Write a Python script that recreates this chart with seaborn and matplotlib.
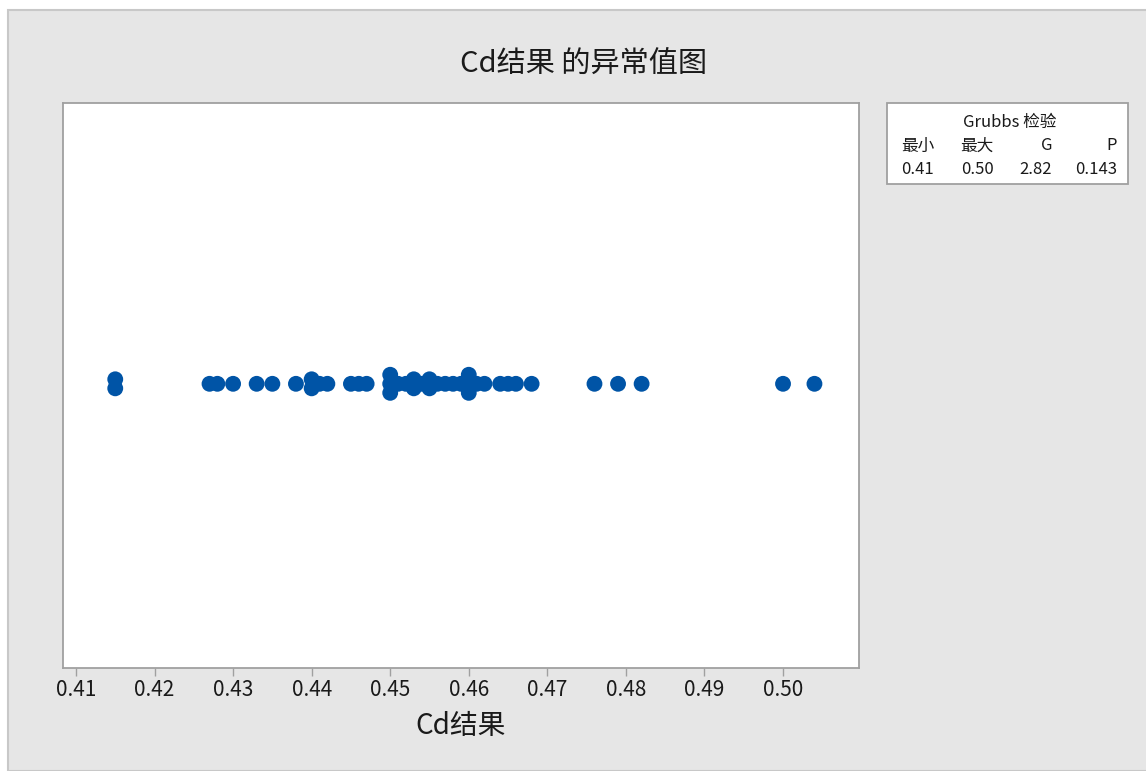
import numpy as np
import pandas as pd
import matplotlib
matplotlib.use("Agg")
import matplotlib.pyplot as plt
from matplotlib.patches import Rectangle
import seaborn as sns

# Cd measurement results (repeated values appear several times)
cd_values = [
    0.415, 0.415,
    0.427, 0.428, 0.430, 0.433, 0.435, 0.438,
    0.440, 0.440, 0.441, 0.442,
    0.445, 0.446, 0.447,
    0.450, 0.450, 0.450, 0.451, 0.452, 0.453, 0.453, 0.454,
    0.455, 0.455, 0.456, 0.457, 0.458, 0.459,
    0.460, 0.460, 0.460, 0.461, 0.462,
    0.464, 0.465, 0.466, 0.468,
    0.476, 0.479, 0.482,
    0.500, 0.504,
]
x_ticks = [0.41, 0.42, 0.43, 0.44, 0.45, 0.46, 0.47, 0.48, 0.49, 0.50]

# Grubbs test summary
grubbs_headers = ["最小", "最大", "G", "P"]
grubbs_values = ["0.41", "0.50", "2.82", "0.143"]

sns.set_theme(style="white")
plt.rcParams["font.family"] = ["Noto Sans CJK SC", "DejaVu Sans"]

# Stack identical values vertically, centred on the axis line
df = pd.DataFrame({"Cd结果": cd_values})
df["rank"] = df.groupby("Cd结果").cumcount()
df["count"] = df.groupby("Cd结果")["Cd结果"].transform("size")
stack_step = 0.032
df["level"] = 0.006 + (df["rank"] - (df["count"] - 1) / 2.0) * stack_step

W, H = 1146, 771
fig = plt.figure(figsize=(W / 100, H / 100), dpi=100)
fig.patch.set_facecolor("white")

# Grey panel behind the chart
fig.patches.append(Rectangle((8 / W, 0), 1 - 8 / W + 0.01, 1 - 10 / H,
                             transform=fig.transFigure, facecolor="#e6e6e6",
                             edgecolor="#c8c8c8", linewidth=1.5, zorder=-10))

ax_l, ax_r, ax_t, ax_b = 63, 859, 103, 668
ax = fig.add_axes([ax_l / W, 1 - ax_b / H, (ax_r - ax_l) / W, (ax_b - ax_t) / H])
ax.set_facecolor("white")

sns.scatterplot(data=df, x="Cd结果", y="level", ax=ax, color="#0054a6",
                s=130, edgecolor="none", linewidth=0, legend=False, zorder=3)

ax.set_xlim(0.40835, 0.50967)
ax.set_ylim(-1, 1)
ax.set_xticks(x_ticks)
ax.set_xticklabels([f"{t:.2f}" for t in x_ticks], fontsize=15, color="#1a1a1a")
ax.set_yticks([])
ax.set_ylabel("")
ax.set_xlabel("Cd结果", fontsize=20, color="#1a1a1a", labelpad=7)
for sp in ax.spines.values():
    sp.set_color("#a0a0a0")
    sp.set_linewidth(1.3)
ax.tick_params(axis="x", bottom=True, direction="out", length=6, width=1,
               color="#a0a0a0", pad=2)

fig.text(583 / W, 1 - 65 / H, "Cd结果 的异常值图", ha="center", va="center",
         fontsize=21, color="#1a1a1a")

# Grubbs test box
bx_l, bx_r, bx_t, bx_b = 887, 1128, 103, 184
fig.patches.append(Rectangle((bx_l / W, 1 - bx_b / H), (bx_r - bx_l) / W,
                             (bx_b - bx_t) / H, transform=fig.transFigure,
                             facecolor="white", edgecolor="#a0a0a0", linewidth=1.3))
fig.text(1010 / W, 1 - 122 / H, "Grubbs 检验", ha="center", va="center",
         fontsize=12, color="#1a1a1a")
col_x = [918, 977, 1052, 1117]
col_ha = ["center", "center", "right", "right"]
for cx, ha, hdr, val in zip(col_x, col_ha, grubbs_headers, grubbs_values):
    fig.text(cx / W, 1 - 146 / H, hdr, ha=ha, va="center", fontsize=12, color="#1a1a1a")
    fig.text(cx / W, 1 - 169 / H, val, ha=ha, va="center", fontsize=12, color="#1a1a1a")

fig.savefig("out.png", dpi=100)
